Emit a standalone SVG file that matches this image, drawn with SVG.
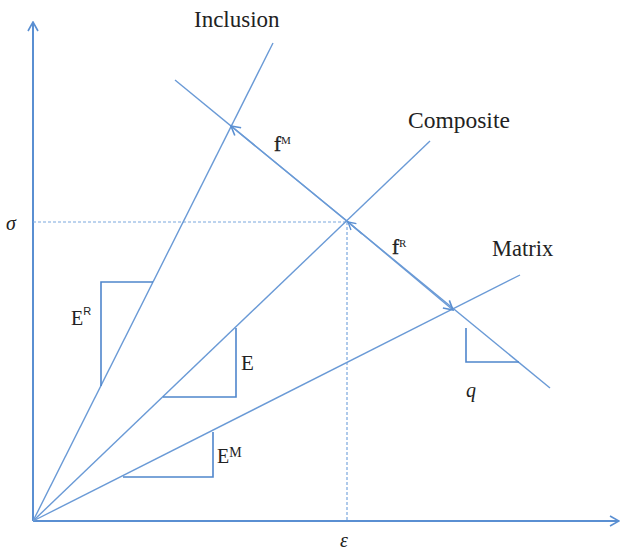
<svg xmlns="http://www.w3.org/2000/svg" width="622" height="550" viewBox="0 0 622 550">
<defs>
<style>
.ax{stroke:#5a8fd2;stroke-width:2;fill:none}
.ln{stroke:#6a9ad6;stroke-width:1.4;fill:none}
.tri{stroke:#4f86cc;stroke-width:1.6;fill:none}
.dash{stroke:#7aa7de;stroke-width:1.2;stroke-dasharray:3 2;fill:none}
.t{fill:#222}
.i{font-style:italic}
</style>
<marker id="ah" viewBox="0 0 12 12" refX="11" refY="6" markerWidth="12" markerHeight="12" markerUnits="userSpaceOnUse" orient="auto">
<path d="M2,1 L11,6 L2,11" fill="none" stroke="#5a8fd2" stroke-width="1.6"/>
</marker>
<marker id="ahs" viewBox="0 0 12 12" refX="11" refY="6" markerWidth="10" markerHeight="10" markerUnits="userSpaceOnUse" orient="auto">
<path d="M2,1 L11,6 L2,11" fill="none" stroke="#5a8fd2" stroke-width="1.6"/>
</marker>
</defs>
<g id="connectors">
<line class="ax" x1="33" y1="521" x2="33" y2="22" marker-end="url(#ah)"/>
<line class="ax" x1="33" y1="521" x2="619" y2="521" marker-end="url(#ah)"/>
<line class="dash" x1="33" y1="222" x2="347" y2="222"/>
<line class="dash" x1="347" y1="222" x2="347" y2="521"/>
<line id="inclusion-line" class="ln" x1="33" y1="521" x2="273" y2="43"/>
<line id="composite-line" class="ln" x1="33" y1="521" x2="430" y2="141"/>
<line id="matrix-line" class="ln" x1="33" y1="521" x2="520" y2="275"/>
<line class="ln" x1="175" y1="80" x2="550" y2="388"/>
<line class="ln" x1="347" y1="221" x2="231" y2="126" marker-end="url(#ah)"/>
<line class="ln" x1="347" y1="221" x2="453" y2="310" marker-end="url(#ah)"/>
<line class="ln" x1="362" y1="234" x2="348" y2="222" marker-end="url(#ahs)"/>
</g>
<g id="slope-ER"><polyline class="tri" points="101,386 101,282 153,282"/></g>
<g id="slope-E"><polyline class="tri" points="163,397 236,397 236,328"/></g>
<g id="slope-EM"><polyline class="tri" points="123,477 213,477 213,432"/></g>
<g id="slope-q"><polyline class="tri" points="466,328 466,362 519,362"/></g>
<g id="labels" font-family="'Liberation Serif', 'Times New Roman', serif">
<text class="t" x="194" y="27" font-size="23">Inclusion</text>
<text class="t" x="408" y="128" font-size="23.5">Composite</text>
<text class="t" x="492" y="256" font-size="22.5">Matrix</text>
<text class="t" x="274" y="151" font-size="21" stroke="#222" stroke-width="0.4">f<tspan font-size="11" stroke="none" dy="-7">M</tspan></text>
<text class="t" x="392" y="254" font-size="21" stroke="#222" stroke-width="0.4">f<tspan font-size="11" stroke="none" dy="-7">R</tspan></text>
<text class="t" x="71" y="325" font-size="20">E<tspan font-size="11" dy="-10" font-family="'Liberation Sans', Arial, sans-serif">R</tspan></text>
<text class="t" x="241" y="370" font-size="21">E</text>
<text class="t" x="217" y="463" font-size="20">E<tspan font-size="14" dy="-6">M</tspan></text>
<text class="t i" x="6" y="230" font-size="20">σ</text>
<text class="t i" x="340" y="547" font-size="20">ε</text>
<text class="t i" x="466" y="397" font-size="20">q</text>
</g>
</svg>
